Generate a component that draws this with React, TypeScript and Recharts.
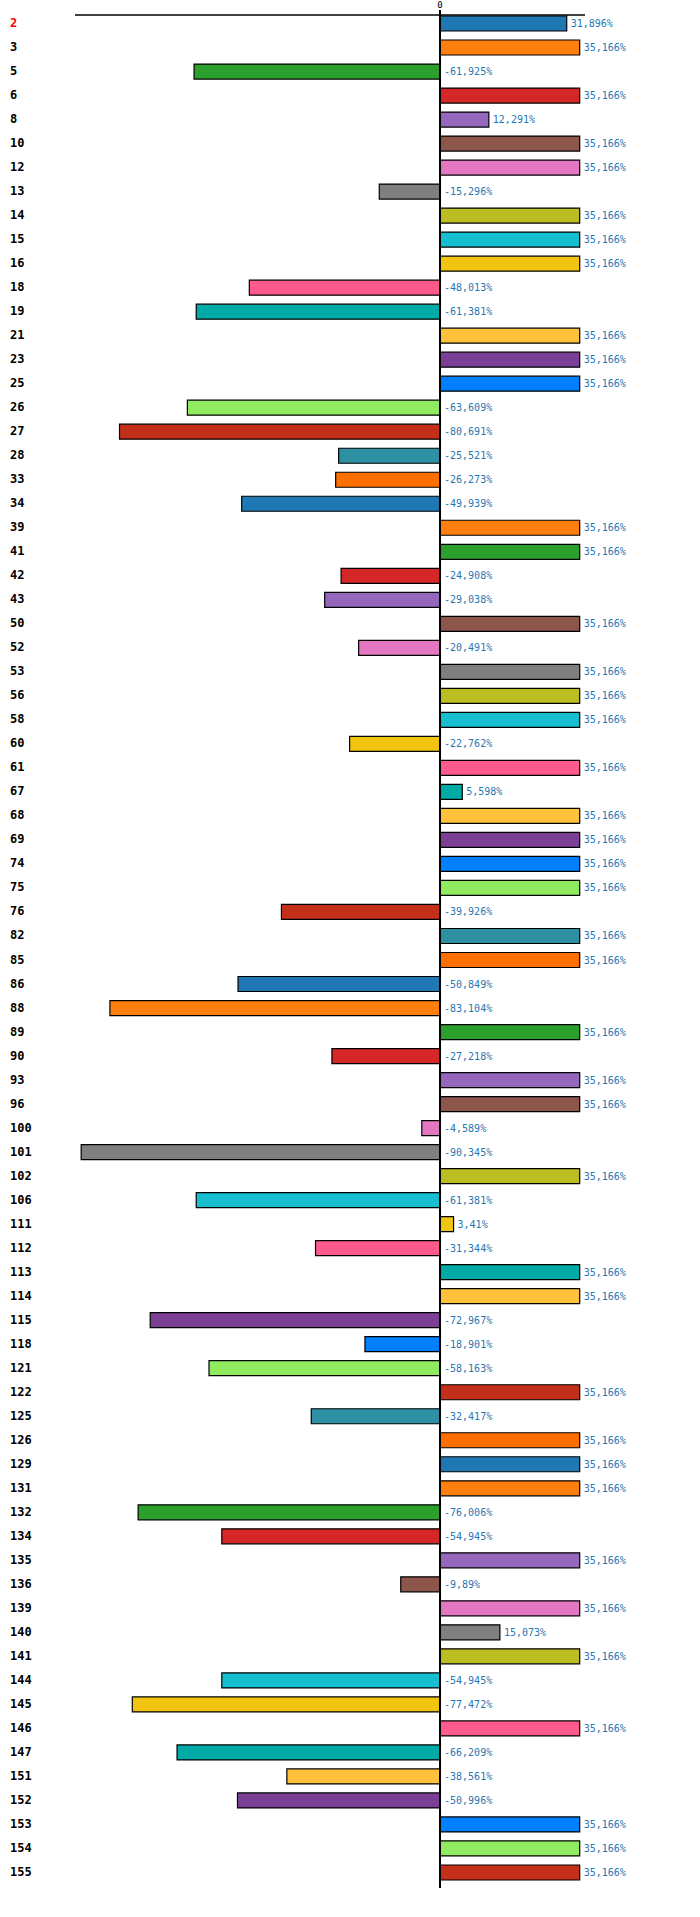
import { BarChart, Bar, XAxis, YAxis, Cell, LabelList, ReferenceLine } from "recharts";

const categories = [
  "2", "3", "5", "6", "8", "10", "12", "13", "14", "15", "16", "18", "19", "21", "23", "25",
  "26", "27", "28", "33", "34", "39", "41", "42", "43", "50", "52", "53", "56", "58", "60",
  "61", "67", "68", "69", "74", "75", "76", "82", "85", "86", "88", "89", "90", "93", "96",
  "100", "101", "102", "106", "111", "112", "113", "114", "115", "118", "121", "122", "125",
  "126", "129", "131", "132", "134", "135", "136", "139", "140", "141", "144", "145", "146",
  "147", "151", "152", "153", "154", "155",
];

const values = [
  31.896, 35.166, -61.925, 35.166, 12.291, 35.166, 35.166, -15.296, 35.166, 35.166, 35.166,
  -48.013, -61.381, 35.166, 35.166, 35.166, -63.609, -80.691, -25.521, -26.273, -49.939,
  35.166, 35.166, -24.908, -29.038, 35.166, -20.491, 35.166, 35.166, 35.166, -22.762, 35.166,
  5.598, 35.166, 35.166, 35.166, 35.166, -39.926, 35.166, 35.166, -50.849, -83.104, 35.166,
  -27.218, 35.166, 35.166, -4.589, -90.345, 35.166, -61.381, 3.41, -31.344, 35.166, 35.166,
  -72.967, -18.901, -58.163, 35.166, -32.417, 35.166, 35.166, 35.166, -76.006, -54.945,
  35.166, -9.89, 35.166, 15.073, 35.166, -54.945, -77.472, 35.166, -66.209, -38.561, -50.996,
  35.166, 35.166, 35.166,
];

const palette = [
  "#1f77b4", "#ff7f0e", "#2ca02c", "#d62728", "#9467bd", "#8c564b", "#e377c2", "#7f7f7f",
  "#bcbd22", "#17becf", "#f1c40f", "#ff5a8c", "#00aaa6", "#ffc13b", "#7b3f96", "#0080ff",
  "#90eb60", "#c42f1a", "#2e91a3", "#ff6f00",
];

const xTicks = [0];
const highlighted = "2";

const data = categories.map((name, i) => ({ name, value: values[i] }));

const fmt = (v: number) => String(v).replace(".", ",") + "%";

const CategoryTick = (props: any) => {
  const { y, payload } = props;
  return (
    <text
      x={10}
      y={y}
      dy={4}
      textAnchor="start"
      fontFamily="'DejaVu Sans Mono', monospace"
      fontWeight="bold"
      fontSize={12}
      fill={payload.value === highlighted ? "#ff0000" : "#000"}
    >
      {payload.value}
    </text>
  );
};

const ValueLabel = (props: any) => {
  const { x, y, width, height, value } = props;
  const right = Math.max(x, x + width);
  return (
    <text
      x={right + 4}
      y={y + height / 2}
      dy={3.5}
      textAnchor="start"
      fontFamily="'DejaVu Sans Mono', monospace"
      fontSize={10}
      fill="#1f77b4"
    >
      {fmt(value)}
    </text>
  );
};

export default function App() {
  return (
    <div style={{ position: "absolute", left: 0, top: 0 }}>
      <BarChart
        width={700}
        height={1917}
        data={data}
        layout="vertical"
        margin={{ top: 0, right: 115, bottom: 29, left: 0 }}
        barSize={15}
      >
        <XAxis
          type="number"
          orientation="top"
          domain={[-91.9, 36.5]}
          ticks={xTicks}
          height={15}
          axisLine={{ stroke: "#000", strokeWidth: 1.3 }}
          tickLine={{ stroke: "#000", strokeWidth: 2 }}
          tickSize={5}
          tick={{ fontSize: 9, fill: "#000", fontFamily: "'DejaVu Sans Mono', monospace" }}
        />
        <YAxis
          type="category"
          dataKey="name"
          width={75}
          axisLine={false}
          tickLine={false}
          interval={0}
          padding={{ top: -4, bottom: 4 }}
          tick={<CategoryTick />}
        />
        <Bar dataKey="value" stroke="#000" strokeWidth={1.2} isAnimationActive={false}>
          {data.map((d, i) => (
            <Cell key={d.name} fill={palette[i % palette.length]} />
          ))}
          <LabelList dataKey="value" content={<ValueLabel />} />
        </Bar>
        <ReferenceLine x={0} stroke="#000" strokeWidth={2} />
      </BarChart>
    </div>
  );
}
